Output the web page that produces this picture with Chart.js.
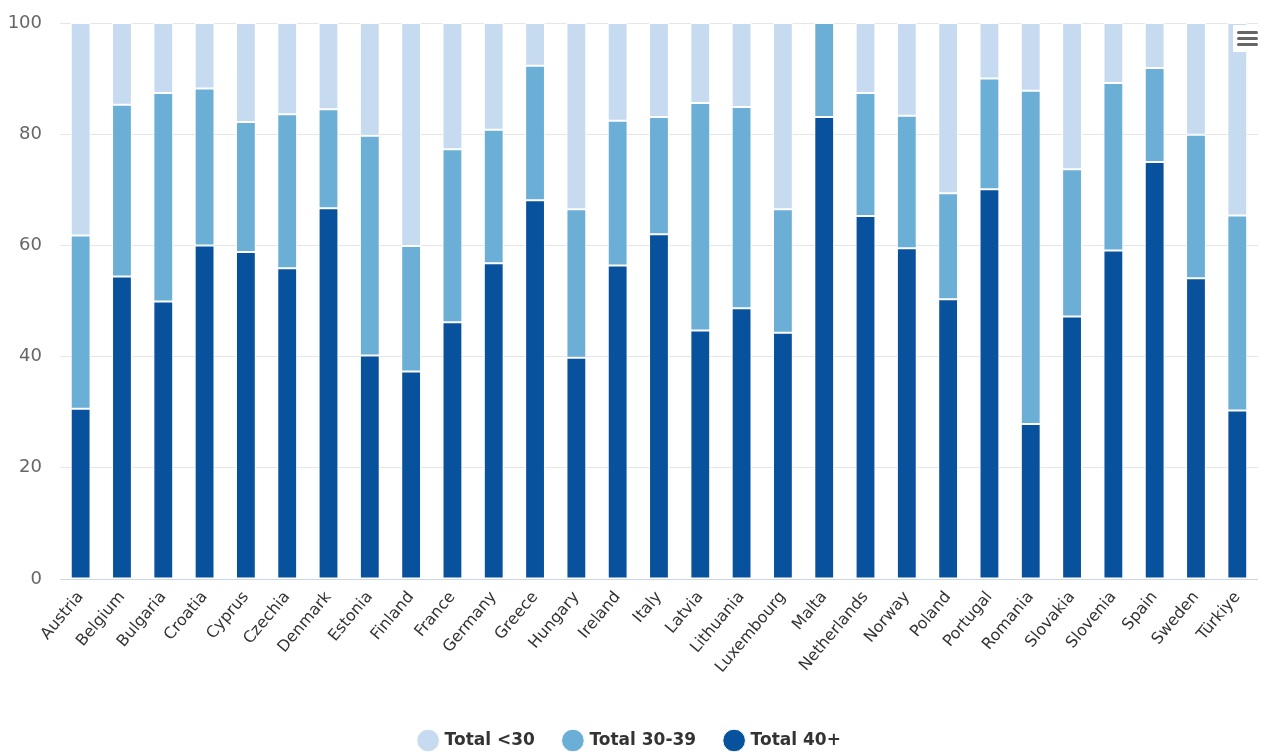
<!DOCTYPE html>
<html>
<head>
<meta charset="utf-8">
<script src="https://cdn.jsdelivr.net/npm/chart.js@4/dist/chart.umd.min.js"></script>
<style>
  html, body { margin: 0; padding: 0; background: #fff; }
  #wrap { position: relative; width: 1261px; height: 754px; }
  #menu { position: absolute; left: 1233px; top: 25px; width: 28px; height: 27px; background: #fff; }
  #menu span { position: absolute; left: 4px; width: 21px; height: 3px; border-radius: 2px; background: #666; }
</style>
</head>
<body>
<div id="wrap">
  <canvas id="chart" width="1261" height="754"></canvas>
  <div id="menu"><span style="top:6px"></span><span style="top:12px"></span><span style="top:18px"></span></div>
</div>
<script>
// Countries and shares by age group (%)
const countries = ["Austria", "Belgium", "Bulgaria", "Croatia", "Cyprus", "Czechia", "Denmark", "Estonia",
    "Finland", "France", "Germany", "Greece", "Hungary", "Ireland", "Italy", "Latvia", "Lithuania",
    "Luxembourg", "Malta", "Netherlands", "Norway", "Poland", "Portugal", "Romania", "Slovakia",
    "Slovenia", "Spain", "Sweden", "Türkiye"];

const total40plus = [30.6, 54.4, 49.9, 60.0, 58.8, 55.9, 66.7, 40.2, 37.3, 46.2, 56.8, 68.1, 39.8, 56.4,
    62.0, 44.7, 48.7, 44.3, 83.1, 65.3, 59.5, 50.3, 70.1, 27.9, 47.2, 59.1, 75.0, 54.1, 30.3];

const total30to39 = [31.2, 30.9, 37.5, 28.2, 23.4, 27.7, 17.8, 39.5, 22.6, 31.1, 24.0, 24.2, 26.7, 26.0,
    21.1, 40.9, 36.2, 22.2, 16.9, 22.1, 23.8, 19.1, 19.9, 59.9, 26.5, 30.1, 16.9, 25.8, 35.1];

const totalUnder30 = [38.2, 14.7, 12.6, 11.8, 17.8, 16.4, 15.5, 20.3, 40.1, 22.7, 19.2, 7.7, 33.5, 17.6,
    16.9, 14.4, 15.1, 33.5, 0.0, 12.6, 16.7, 30.6, 10.0, 12.2, 26.3, 10.8, 8.1, 20.1, 34.6];

const yTicks = [0, 20, 40, 60, 80, 100];

const FONT = "'DejaVu Sans', sans-serif";

new Chart(document.getElementById('chart'), {
    type: 'bar',
    data: {
        labels: countries,
        datasets: [
            { label: 'Total 40+', data: total40plus, backgroundColor: '#08519c' },
            { label: 'Total 30-39', data: total30to39, backgroundColor: '#6baed6' },
            { label: 'Total <30', data: totalUnder30, backgroundColor: '#c6dbef' }
        ]
    },
    options: {
        responsive: false,
        animation: false,
        layout: { padding: { top: 23, right: 0, left: 0, bottom: -5 } },
        datasets: {
            bar: {
                borderColor: '#ffffff',
                borderWidth: 1,
                borderSkipped: false,
                categoryPercentage: 1,
                barPercentage: 0.48
            }
        },
        plugins: {
            legend: {
                position: 'bottom',
                reverse: true,
                labels: {
                    usePointStyle: true,
                    pointStyle: 'circle',
                    boxWidth: 16,
                    boxHeight: 16,
                    padding: 30,
                    color: '#333333',
                    font: { family: FONT, size: 17, weight: 'bold' }
                }
            },
            tooltip: { enabled: false }
        },
        scales: {
            x: {
                stacked: true,
                grid: { display: false, drawTicks: false },
                border: { color: '#ccd6eb', width: 1 },
                ticks: {
                    minRotation: 50,
                    maxRotation: 50,
                    autoSkip: false,
                    padding: 9,
                    color: '#333333',
                    font: { family: FONT, size: 16 }
                },
                afterFit: s => { s.height = 123; }
            },
            y: {
                stacked: true,
                min: 0,
                max: 100,
                afterBuildTicks: s => { s.ticks = yTicks.map(v => ({ value: v })); },
                grid: { color: '#e6e6e6', drawTicks: false },
                border: { display: false },
                ticks: {
                    padding: 18,
                    color: '#666666',
                    font: { family: FONT, size: 18 }
                },
                afterFit: s => { s.width = 60; s.paddingTop = 0; s.paddingBottom = 0; }
            }
        }
    }
});
</script>
</body>
</html>
